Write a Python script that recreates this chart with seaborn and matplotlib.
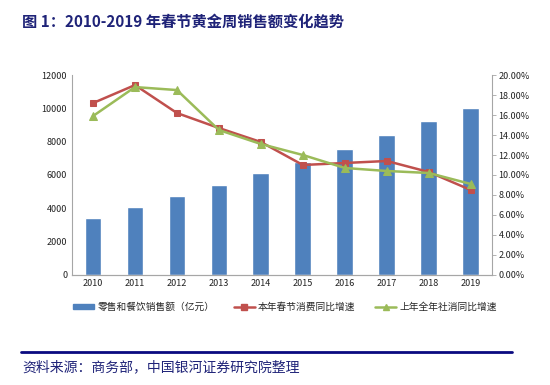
import numpy as np
import pandas as pd
import matplotlib
matplotlib.use("Agg")
import matplotlib.pyplot as plt
import seaborn as sns
from matplotlib.lines import Line2D
from matplotlib.patches import Patch
from matplotlib.ticker import FuncFormatter

# ============================================================
# Data
# ============================================================
years = ["2010", "2011", "2012", "2013", "2014", "2015", "2016", "2017", "2018", "2019"]
sales = [3400, 4060, 4720, 5400, 6100, 6800, 7540, 8380, 9260, 10040]       # 亿元
spring_growth = [17.2, 19.0, 16.2, 14.7, 13.3, 11.0, 11.2, 11.4, 10.3, 8.5]  # %
retail_growth = [15.9, 18.8, 18.5, 14.5, 13.1, 12.0, 10.7, 10.4, 10.2, 9.1]  # %

bar_label = "零售和餐饮销售额（亿元）"
red_label = "本年春节消费同比增速"
green_label = "上年全年社消同比增速"

BLUE = "#4F81BD"
RED = "#C0504D"
GREEN = "#9BBB59"
NAVY = "#1F2378"

df = pd.DataFrame({
    "Year": years,
    "Sales": sales,
    "Spring": spring_growth,
    "Retail": retail_growth,
})
df["pos"] = np.arange(len(df))

# ============================================================
# Plot
# ============================================================
sns.set_theme(style="white")
plt.rcParams["font.family"] = ["Noto Sans CJK SC", "DejaVu Sans"]

fig = plt.figure(figsize=(5.5, 3.85), dpi=100)
ax = fig.add_axes([0.131, 0.286, 0.763, 0.519])

sns.barplot(data=df, x="Year", y="Sales", color=BLUE, width=0.4,
            saturation=1, errorbar=None, ax=ax)
ax.set_ylim(0, 12000)
ax.set_yticks(range(0, 12001, 2000))
ax.set_xlim(-0.5, len(years) - 0.5)
ax.set_xlabel("")
ax.set_ylabel("")

ax2 = ax.twinx()
sns.lineplot(data=df, x="pos", y="Spring", color=RED, marker="s",
             markersize=5, linewidth=1.8, markeredgecolor=RED, ax=ax2)
sns.lineplot(data=df, x="pos", y="Retail", color=GREEN, marker="^",
             markersize=6, linewidth=1.8, markeredgecolor=GREEN, ax=ax2)
ax2.set_ylim(0, 20)
ax2.set_yticks(range(0, 21, 2))
ax2.yaxis.set_major_formatter(FuncFormatter(lambda v, p: f"{v:.2f}%"))
ax2.set_xlim(-0.5, len(years) - 0.5)
ax2.set_xlabel("")
ax2.set_ylabel("")

for a in (ax, ax2):
    a.spines["top"].set_visible(False)
    for s in ("left", "right", "bottom"):
        a.spines[s].set_color("#A6A6A6")
        a.spines[s].set_linewidth(0.8)
    a.tick_params(labelsize=6.5, colors="#222222", length=0)
ax.spines["right"].set_visible(False)
ax2.spines["left"].set_visible(False)
ax2.tick_params(axis="y", length=3, width=0.6, color="#A6A6A6", pad=2)
ax.tick_params(axis="x", pad=3)

# Legend below the plot
handles = [
    Patch(facecolor=BLUE, edgecolor=BLUE),
    Line2D([0], [0], color=RED, marker="s", markersize=4, linewidth=1.8),
    Line2D([0], [0], color=GREEN, marker="^", markersize=4.5, linewidth=1.8),
]
fig.legend(handles, [bar_label, red_label, green_label], loc="center",
           bbox_to_anchor=(0.518, 0.203), ncol=3, frameon=False,
           fontsize=7, handlelength=2.2, handleheight=0.5,
           columnspacing=2.0, handletextpad=0.3)

# Title
fig.text(0.04, 0.945, "图 1：2010-2019 年春节黄金周销售额变化趋势",
         fontsize=11, fontweight="bold", color=NAVY, va="center", ha="left")

# Footer rule and source
fig.add_artist(Line2D([0.038, 0.93], [0.086, 0.086], color="#0A0A80",
                      linewidth=2, transform=fig.transFigure))
fig.text(0.04, 0.045, "资料来源：商务部，中国银河证券研究院整理",
         fontsize=10, color=NAVY, va="center", ha="left", style="italic")

fig.savefig("out.png", dpi=100)
